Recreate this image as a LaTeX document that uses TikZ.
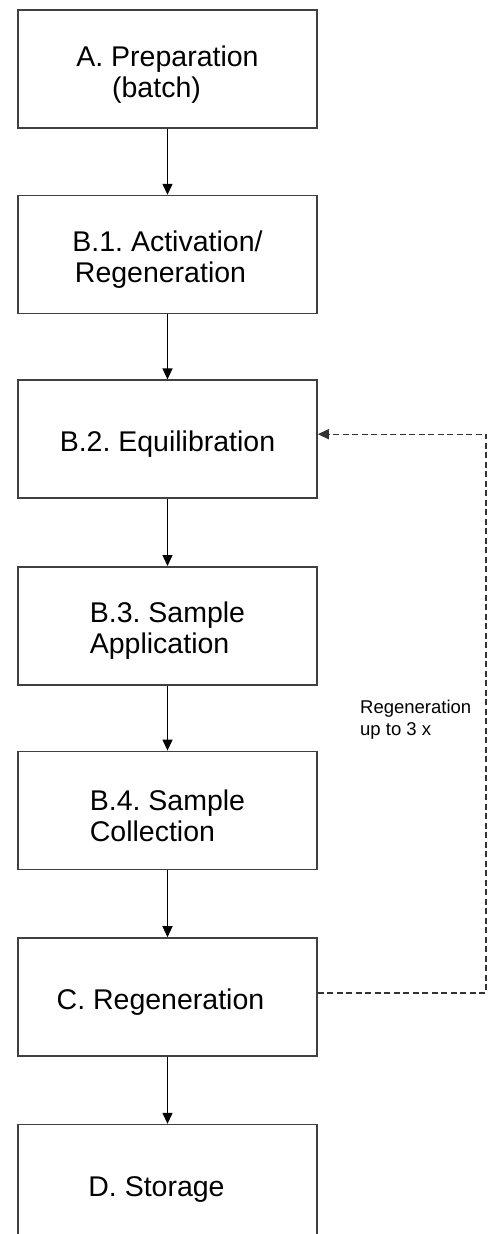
\documentclass[tikz,border=0pt]{standalone}
\usepackage{fontspec}
\setmainfont{Liberation Sans}
\usetikzlibrary{positioning,arrows.meta}
\frenchspacing
\newcommand{\droptext}{\rule{0pt}{31pt}}
\tikzset{
  stage/.style={draw=black!75, line width=1.6pt, minimum width=299pt, minimum height=118pt,
    inner sep=0pt, font=\fontsize{28.5}{31}\selectfont},
  flow/.style={line width=1.3pt, -{Triangle[length=11pt,width=10pt]}},
  loop/.style={draw=black!80, line width=1.4pt, dash pattern=on 6pt off 3.5pt, -{Triangle[length=11pt,width=10pt]}},
  note/.style={font=\fontsize{18.5}{22}\selectfont, align=left, inner sep=0pt}
}
\begin{document}
\begin{tikzpicture}[x=1pt,y=1pt]
	\useasboundingbox (0,0) rectangle (495,-1234);
	\node [stage, align=center] (prep) at (167.5,-69) {\droptext A. Preparation\\\hspace*{-22pt}(batch)};
	\node [stage, align=center, below=66pt of prep] (activ) {\droptext B.1. Activation/\\\hspace*{-14pt}Regeneration};
	\node [stage, below=65pt of activ] (equil) {\droptext B.2. Equilibration};
	\node [stage, align=left, below=67pt of equil] (apply) {\droptext B.3. Sample\\Application};
	\node [stage, align=left, below=65pt of apply] (collect) {\droptext B.4. Sample\\Collection};
	\node [stage, below=67pt of collect] (regen) {\droptext\hspace*{-14pt}C. Regeneration};
	\node [stage, below=67pt of regen] (store) {\droptext\hspace*{-22pt}D. Storage};
	% flow between the stages
	\draw [flow] (prep) -- (activ);
	\draw [flow] (activ) -- (equil);
	\draw [flow] (equil) -- (apply);
	\draw [flow] (apply) -- (collect);
	\draw [flow] (collect) -- (regen);
	\draw [flow] (regen) -- (store);
	% regeneration loop
	\coordinate (turn) at (486,0);
	\draw [loop] ([yshift=4pt]regen.east) -- ([yshift=4pt]regen.east -| turn)
		-- ([yshift=5pt]equil.east -| turn) -- ([yshift=5pt]equil.east);
	\node [note, anchor=west] (loopnote) at (360,-720) {Regeneration\\up to 3 x};
\end{tikzpicture}
\end{document}
